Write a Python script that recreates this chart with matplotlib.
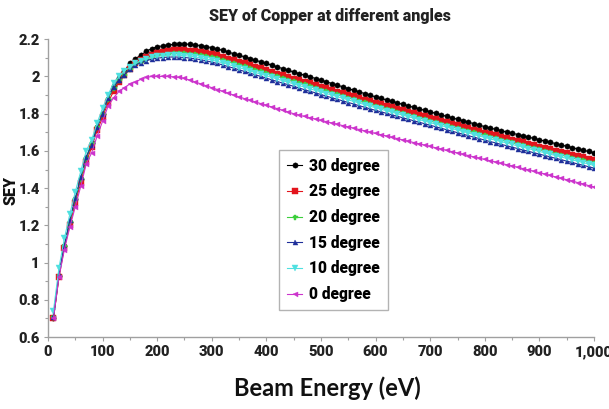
import matplotlib
matplotlib.use("Agg")
import matplotlib.pyplot as plt
from matplotlib.ticker import FuncFormatter, MultipleLocator

# beam energy (eV)
energy = [10, 20, 30, 40, 50, 60, 70, 80, 90, 100,
          110, 120, 130, 140, 150, 160, 170, 180, 190, 200,
          210, 220, 230, 240, 250, 260, 270, 280, 290, 300,
          310, 320, 330, 340, 350, 360, 370, 380, 390, 400,
          410, 420, 430, 440, 450, 460, 470, 480, 490, 500,
          510, 520, 530, 540, 550, 560, 570, 580, 590, 600,
          610, 620, 630, 640, 650, 660, 670, 680, 690, 700,
          710, 720, 730, 740, 750, 760, 770, 780, 790, 800,
          810, 820, 830, 840, 850, 860, 870, 880, 890, 900,
          910, 920, 930, 940, 950, 960, 970, 980, 990, 1000]

sey_30 = [0.70, 0.93, 1.09, 1.22, 1.34, 1.45, 1.56, 1.64, 1.73, 1.80,
          1.88, 1.95, 1.99, 2.03, 2.07, 2.095, 2.115, 2.135, 2.15, 2.16,
          2.165, 2.17, 2.172, 2.175, 2.175, 2.173, 2.17, 2.166, 2.161, 2.155,
          2.148, 2.14, 2.131, 2.122, 2.114, 2.105, 2.096, 2.087, 2.078, 2.07,
          2.06, 2.051, 2.042, 2.033, 2.024, 2.015, 2.007, 1.998, 1.989, 1.98,
          1.971, 1.962, 1.953, 1.944, 1.935, 1.926, 1.917, 1.908, 1.899, 1.89,
          1.882, 1.874, 1.866, 1.858, 1.85, 1.842, 1.834, 1.826, 1.818, 1.81,
          1.802, 1.794, 1.786, 1.778, 1.77, 1.762, 1.754, 1.746, 1.738, 1.73,
          1.723, 1.716, 1.709, 1.702, 1.695, 1.688, 1.681, 1.674, 1.667, 1.66,
          1.653, 1.646, 1.639, 1.632, 1.625, 1.618, 1.611, 1.604, 1.597, 1.59]

sey_25 = [0.70, 0.92, 1.08, 1.20, 1.32, 1.43, 1.54, 1.62, 1.71, 1.78,
          1.86, 1.92, 1.97, 2.01, 2.04, 2.07, 2.09, 2.105, 2.118, 2.127,
          2.133, 2.137, 2.14, 2.14, 2.14, 2.138, 2.135, 2.131, 2.126, 2.12,
          2.113, 2.105, 2.096, 2.087, 2.079, 2.07, 2.061, 2.052, 2.043, 2.035,
          2.025, 2.016, 2.007, 1.998, 1.989, 1.98, 1.972, 1.963, 1.954, 1.945,
          1.936, 1.928, 1.919, 1.91, 1.902, 1.893, 1.884, 1.876, 1.867, 1.858,
          1.85, 1.842, 1.834, 1.826, 1.818, 1.81, 1.802, 1.794, 1.786, 1.778,
          1.77, 1.762, 1.754, 1.746, 1.738, 1.73, 1.722, 1.714, 1.706, 1.698,
          1.691, 1.683, 1.676, 1.668, 1.661, 1.653, 1.646, 1.638, 1.631, 1.623,
          1.616, 1.609, 1.601, 1.594, 1.587, 1.579, 1.572, 1.565, 1.557, 1.55]

sey_20 = [0.71, 0.93, 1.09, 1.22, 1.34, 1.45, 1.56, 1.64, 1.73, 1.80,
          1.88, 1.94, 1.98, 2.01, 2.04, 2.065, 2.08, 2.095, 2.105, 2.113,
          2.118, 2.122, 2.125, 2.125, 2.124, 2.122, 2.119, 2.115, 2.11, 2.104,
          2.097, 2.089, 2.08, 2.071, 2.063, 2.054, 2.045, 2.036, 2.027, 2.019,
          2.01, 2.001, 1.992, 1.983, 1.974, 1.965, 1.957, 1.948, 1.939, 1.93,
          1.921, 1.913, 1.904, 1.895, 1.887, 1.878, 1.869, 1.861, 1.852, 1.843,
          1.835, 1.827, 1.819, 1.811, 1.803, 1.795, 1.787, 1.779, 1.771, 1.763,
          1.755, 1.747, 1.739, 1.731, 1.723, 1.715, 1.707, 1.699, 1.691, 1.683,
          1.676, 1.668, 1.661, 1.653, 1.646, 1.638, 1.631, 1.623, 1.616, 1.608,
          1.601, 1.594, 1.586, 1.579, 1.572, 1.564, 1.557, 1.55, 1.542, 1.535]

sey_15 = [0.71, 0.94, 1.09, 1.23, 1.345, 1.46, 1.57, 1.63, 1.73, 1.80,
          1.885, 1.945, 1.98, 2.01, 2.04, 2.06, 2.075, 2.085, 2.093, 2.098,
          2.102, 2.104, 2.105, 2.104, 2.102, 2.099, 2.095, 2.09, 2.084, 2.077,
          2.07, 2.062, 2.053, 2.045, 2.036, 2.027, 2.018, 2.009, 2.0, 1.991,
          1.982, 1.973, 1.964, 1.956, 1.947, 1.938, 1.929, 1.92, 1.912, 1.903,
          1.894, 1.886, 1.877, 1.869, 1.86, 1.852, 1.843, 1.835, 1.826, 1.818,
          1.81, 1.802, 1.794, 1.786, 1.778, 1.77, 1.762, 1.754, 1.746, 1.738,
          1.73, 1.722, 1.714, 1.706, 1.698, 1.69, 1.682, 1.674, 1.666, 1.658,
          1.65, 1.643, 1.635, 1.628, 1.62, 1.613, 1.605, 1.598, 1.59, 1.583,
          1.575, 1.568, 1.56, 1.553, 1.545, 1.538, 1.53, 1.523, 1.515, 1.508]

sey_10 = [0.74, 0.97, 1.13, 1.26, 1.38, 1.49, 1.60, 1.66, 1.75, 1.83,
          1.90, 1.965, 2.00, 2.03, 2.05, 2.07, 2.085, 2.095, 2.103, 2.108,
          2.112, 2.115, 2.115, 2.114, 2.112, 2.109, 2.105, 2.1, 2.094, 2.088,
          2.081, 2.073, 2.065, 2.056, 2.048, 2.039, 2.03, 2.021, 2.013, 2.004,
          1.995, 1.986, 1.977, 1.969, 1.96, 1.951, 1.943, 1.934, 1.925, 1.917,
          1.908, 1.9, 1.891, 1.883, 1.874, 1.866, 1.857, 1.849, 1.84, 1.832,
          1.824, 1.816, 1.808, 1.8, 1.792, 1.784, 1.776, 1.768, 1.76, 1.752,
          1.744, 1.736, 1.728, 1.72, 1.712, 1.704, 1.696, 1.688, 1.68, 1.672,
          1.665, 1.657, 1.65, 1.642, 1.635, 1.627, 1.62, 1.612, 1.605, 1.597,
          1.59, 1.582, 1.575, 1.567, 1.56, 1.552, 1.545, 1.537, 1.53, 1.522]

sey_0 = [0.70, 0.92, 1.07, 1.19, 1.30, 1.41, 1.53, 1.59, 1.68, 1.76,
         1.84, 1.885, 1.92, 1.94, 1.96, 1.97, 1.985, 1.995, 2.0, 2.0,
         2.0, 2.0, 1.998, 1.995, 1.99, 1.98, 1.97, 1.96, 1.95, 1.94,
         1.93, 1.92, 1.91, 1.90, 1.89, 1.881, 1.872, 1.863, 1.854, 1.845,
         1.836, 1.827, 1.818, 1.809, 1.80, 1.792, 1.785, 1.778, 1.771, 1.764,
         1.757, 1.75, 1.743, 1.736, 1.729, 1.722, 1.715, 1.708, 1.701, 1.694,
         1.687, 1.68, 1.673, 1.666, 1.659, 1.652, 1.645, 1.638, 1.631, 1.624,
         1.617, 1.61, 1.603, 1.596, 1.589, 1.582, 1.575, 1.568, 1.561, 1.554,
         1.547, 1.54, 1.533, 1.526, 1.519, 1.512, 1.505, 1.498, 1.49, 1.483,
         1.476, 1.468, 1.46, 1.453, 1.445, 1.438, 1.43, 1.422, 1.414, 1.406]

labels = ["30 degree", "25 degree", "20 degree", "15 degree", "10 degree", "0 degree"]
series = [sey_30, sey_25, sey_20, sey_15, sey_10, sey_0]
colors = ["#000000", "#e3141c", "#3ccf3c", "#1f2f9a", "#4fe0e0", "#cc33cc"]
markers = ["o", "s", "P", "^", "v", "<"]
msizes = [3.8, 4.6, 3.6, 3.6, 3.8, 3.6]

font = {"family": "Roboto", "weight": "black"}

fig = plt.figure(figsize=(6.09, 4.09), dpi=100)
ax = fig.add_axes([0.0788, 0.176, 0.8966, 0.728])

for y, lab, c, m, ms in zip(series, labels, colors, markers, msizes):
    ax.plot(energy, y, color=c, marker=m, markersize=ms, linewidth=0.8,
            markeredgewidth=0.3, label=lab)

ax.set_xlim(0, 1000)
ax.set_ylim(0.6, 2.2)
ax.xaxis.set_major_locator(MultipleLocator(100))
ax.xaxis.set_minor_locator(MultipleLocator(50))
ax.yaxis.set_major_locator(MultipleLocator(0.2))
ax.yaxis.set_minor_locator(MultipleLocator(0.1))
ax.xaxis.set_major_formatter(FuncFormatter(lambda v, p: "{:,.0f}".format(v)))
ax.yaxis.set_major_formatter(FuncFormatter(lambda v, p: "{:g}".format(round(v, 1))))

for s in ["top", "right"]:
    ax.spines[s].set_visible(False)
for s in ["left", "bottom"]:
    ax.spines[s].set_color("#a0a0a0")
    ax.spines[s].set_linewidth(1.0)
ax.tick_params(which="both", color="#a0a0a0", width=0.8)
ax.tick_params(which="major", length=3, pad=3)
ax.tick_params(which="minor", length=2)
for t in ax.get_xticklabels() + ax.get_yticklabels():
    t.set_fontfamily("Roboto")
    t.set_fontweight("black")
    t.set_fontsize(10.5)
    t.set_color("#222222")

fig.text(0.542, 0.962, "SEY of Copper at different angles", ha="center", va="center",
         fontsize=11.5, color="#222222", **font)
fig.text(0.017, 0.535, "SEY", rotation=90, ha="center", va="center",
         fontsize=11.5, color="#111111", **font)
fig.text(0.538, 0.05, "Beam Energy (eV)", ha="center", va="center",
         fontsize=17, fontfamily="Lato", fontweight="bold", color="#111111")

leg = ax.legend(loc="upper left", bbox_to_anchor=(0.423, 0.628), borderaxespad=0,
                frameon=True, fancybox=False, handlelength=1.0, handletextpad=0.45,
                labelspacing=0.62, borderpad=0.5, prop={"size": 11.2, **font})
leg.get_frame().set_edgecolor("#a0a0a0")
leg.get_frame().set_linewidth(1.0)

fig.savefig("out.png", dpi=100)
